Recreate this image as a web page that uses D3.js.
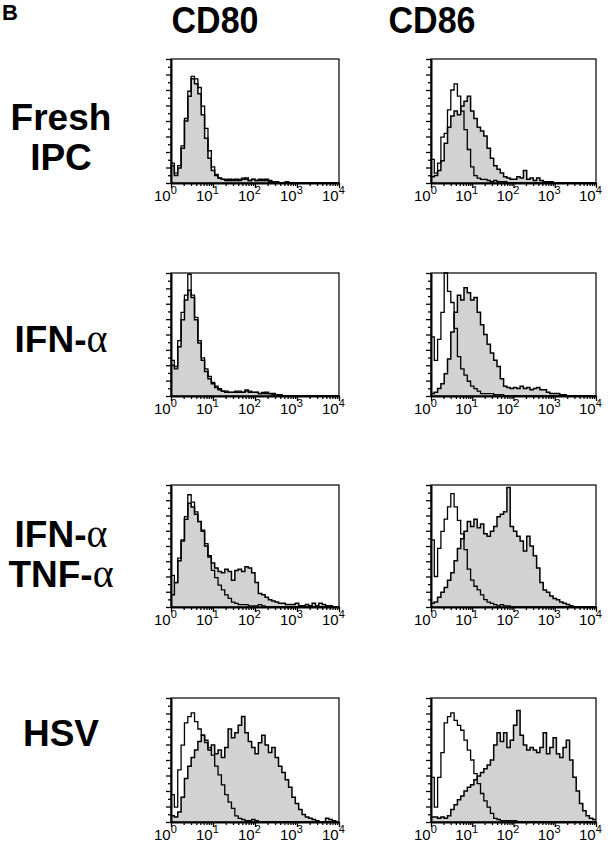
<!DOCTYPE html>
<html>
<head>
<meta charset="utf-8">
<title>CD80 / CD86 histograms</title>
<script src="https://cdn.jsdelivr.net/npm/d3@7"></script>
<style>
  body { margin: 0; background: #fff; }
  svg { display: block; }
</style>
</head>
<body>
<svg id="fig" width="612" height="852"></svg>
<script>
// column headers and row labels
var markers = ['CD80', 'CD86'];
var conditions = [['Fresh', 'IPC'], ['IFN-α'], ['IFN-α', 'TNF-α'], ['HSV']];

// histogram counts, % of full scale, one bin per 0.08 decade (10^0 .. 10^4)
var freshCD80Stain = [14,6,12,28,50,70,84,80,72,55, 36,20,10,6,4,3,2,3,2,3, 2,3,4,2,3,2,3,2,3,2, 1,1,0,0,1,0,0,0,0,0, 0,0,0,0,0,0,0,0,0,0];
var freshCD80Ctrl  = [16,8,14,30,52,74,86,84,77,62, 44,26,13,7,4,3,3,2,3,2, 3,4,3,2,3,2,2,3,2,1, 1,1,0,0,0,0,0,0,0,0, 0,0,0,0,0,0,0,0,0,0];
var freshCD86Stain = [5,6,10,18,32,45,54,58,55,62, 66,70,58,52,45,42,38,28,20,14, 11,8,5,4,3,3,5,4,10,3, 4,2,4,2,1,1,1,0,0,0, 0,0,0,0,0,0,0,0,0,0];
var freshCD86Ctrl  = [19,8,16,37,40,59,75,80,70,58, 43,27,13,6,4,3,3,2,1,2, 1,1,1,0,0,0,0,0,0,0, 0,0,0,0,0,0,0,0,0,0, 0,0,0,0,0,0,0,0,0,0];

var ifnCD80Stain = [25,24,40,62,78,86,80,62,43,29, 20,14,10,7,5,4,3,3,3,3, 3,3,4,3,3,3,2,2,3,2, 2,1,1,0,0,0,0,0,0,0, 0,0,0,0,0,0,0,0,0,0];
var ifnCD80Ctrl  = [29,22,45,68,82,99,82,64,45,31, 22,16,11,8,6,4,4,3,3,4, 4,3,5,4,3,3,2,3,2,2, 1,1,1,0,0,0,0,0,0,0, 0,0,0,0,0,0,0,0,0,0];
var ifnCD86Stain = [2,3,6,10,18,30,52,68,82,78, 88,84,78,80,68,58,50,42,35,29, 24,14,8,7,6,7,6,8,6,7, 5,6,7,5,5,3,2,2,2,1, 1,0,0,0,0,0,0,0,0,0];
var ifnCD86Ctrl  = [48,29,46,68,100,85,76,55,32,22, 17,12,8,6,4,2,2,2,2,1, 1,1,0,0,0,0,0,0,0,0, 0,0,0,0,0,0,0,0,0,0, 0,0,0,0,0,0,0,0,0,0];

var tnfCD80Stain = [10,20,38,54,72,85,82,76,70,62, 50,41,36,32,29,28,31,29,22,30, 31,29,33,32,28,20,11,10,8,6, 5,4,3,3,2,2,2,3,1,1, 2,1,3,1,3,2,1,1,0,0];
var tnfCD80Ctrl  = [26,20,40,55,74,92,86,78,70,63, 52,42,30,24,18,14,10,7,4,3, 2,2,2,1,1,1,2,1,0,0, 0,0,0,0,0,0,0,0,0,0, 0,0,0,0,0,0,0,0,0,0];
var tnfCD86Stain = [3,4,8,12,16,22,28,38,48,56, 62,70,66,72,65,68,60,58,62,66, 74,76,78,98,66,62,58,54,46,58, 50,42,32,20,14,12,9,7,6,4, 3,2,1,0,0,0,0,0,0,0];
var tnfCD86Ctrl  = [55,25,48,62,72,82,93,82,71,60, 47,31,22,17,14,10,6,4,3,2, 1,2,1,1,0,0,0,0,0,0, 0,0,0,0,0,0,0,0,0,0, 0,0,0,0,0,0,0,0,0,0];

var hsvCD80Stain = [5,4,8,20,35,45,52,58,65,70, 66,58,62,55,58,52,60,75,68,72, 78,85,72,65,60,55,64,70,62,56, 60,52,45,40,34,28,20,15,10,6, 4,3,2,1,0,0,3,2,1,0];
var hsvCD80Ctrl  = [22,12,42,62,80,85,88,81,75,70, 64,60,54,45,38,30,22,16,11,5, 3,2,1,1,2,1,0,0,0,0, 0,0,0,0,0,0,0,0,0,0, 0,0,0,0,0,0,0,0,0,0];
var hsvCD86Stain = [4,4,3,4,3,5,10,14,18,21, 25,28,30,34,37,40,43,46,50,62, 72,65,72,60,66,78,90,70,62,58, 60,58,56,60,72,55,60,68,55,52, 60,66,50,36,25,15,9,5,3,2];
var hsvCD86Ctrl  = [36,12,36,56,80,85,88,82,78,74, 66,58,50,39,31,23,17,12,7,3, 2,1,1,1,1,1,0,0,0,0, 0,0,0,0,0,0,0,0,0,0, 0,0,0,0,0,0,0,0,0,0];

var binWidth = 0.08; // decades per bin
var decadeLabels = ['0', '1', '2', '3', '4'];

// [stained, isotype control] per row, per column
var panels = [
  [[freshCD80Stain, freshCD80Ctrl], [freshCD86Stain, freshCD86Ctrl]],
  [[ifnCD80Stain, ifnCD80Ctrl], [ifnCD86Stain, ifnCD86Ctrl]],
  [[tnfCD80Stain, tnfCD80Ctrl], [tnfCD86Stain, tnfCD86Ctrl]],
  [[hsvCD80Stain, hsvCD80Ctrl], [hsvCD86Stain, hsvCD86Ctrl]]
];

//----------------------------
var svg = d3.select('#fig');
var colX = [[171, 339], [431, 596]];
var rowY = [[59, 183], [273, 396], [485, 607], [698, 822]];
var labelBase = [[130, 170], [352], [547, 587], [746]];
var bold = '"Liberation Sans", Arial, Helvetica, sans-serif';

svg.append('text')
  .attr('x', 2).attr('y', 20)
  .attr('font-family', bold).attr('font-weight', 'bold').attr('font-size', 22)
  .text('B');

var headerX = [215, 432];
markers.forEach(function (m, i) {
  svg.append('text')
    .attr('transform', 'translate(' + headerX[i] + ',33) scale(0.92,1)')
    .attr('text-anchor', 'middle')
    .attr('font-family', bold).attr('font-weight', 'bold').attr('font-size', 37)
    .text(m);
});

// row labels, alpha drawn in a serif face like the Symbol font
conditions.forEach(function (lines, r) {
  lines.forEach(function (line, k) {
    var t = svg.append('text')
      .attr('x', 61).attr('y', labelBase[r][k])
      .attr('text-anchor', 'middle')
      .attr('font-family', bold).attr('font-weight', 'bold').attr('font-size', 37);
    var parts = line.split('α');
    t.append('tspan').text(parts[0]);
    if (parts.length > 1) {
      t.append('tspan')
        .attr('font-family', '"Liberation Serif", "DejaVu Serif", serif')
        .attr('font-weight', 'normal').attr('font-size', 40)
        .text('α');
    }
  });
});

function drawPanel(r, c) {
  var x0 = colX[c][0], x1 = colX[c][1];
  var y0 = rowY[r][0], y1 = rowY[r][1];
  var x = d3.scaleLog().domain([1, 1e4]).range([x0, x1]);
  var y = d3.scaleLinear().domain([0, 100]).range([y1, y0]);
  var g = svg.append('g');

  function toPoints(arr) {
    var pts = arr.map(function (v, i) { return [Math.pow(10, i * binWidth), v]; });
    pts.push([1e4, arr[arr.length - 1]]);
    return pts;
  }

  var area = d3.area()
    .curve(d3.curveStepAfter)
    .x(function (d) { return x(d[0]); })
    .y0(y1)
    .y1(function (d) { return y(d[1]); });
  var line = d3.line()
    .curve(d3.curveStepAfter)
    .x(function (d) { return x(d[0]); })
    .y(function (d) { return y(d[1]); });

  var stain = toPoints(panels[r][c][0]);
  var ctrl = toPoints(panels[r][c][1]);

  g.append('path').attr('d', area(stain)).attr('fill', '#d2d2d2');
  g.append('path').attr('d', line(stain)).attr('fill', 'none')
    .attr('stroke', '#000').attr('stroke-width', 1.5);
  g.append('path').attr('d', line(ctrl)).attr('fill', 'none')
    .attr('stroke', '#000').attr('stroke-width', 1.3);

  // frame
  g.append('rect')
    .attr('x', x0).attr('y', y0).attr('width', x1 - x0).attr('height', y1 - y0)
    .attr('fill', 'none').attr('stroke', '#000').attr('stroke-width', 1.2);

  // log x axis, minor ticks at 2..9
  var xAxis = d3.axisBottom(x)
    .tickValues(x.ticks())
    .tickFormat('')
    .tickSizeOuter(0);
  var ax = g.append('g').attr('transform', 'translate(0,' + y1 + ')').call(xAxis);
  ax.select('.domain').attr('stroke-width', 2);
  ax.selectAll('.tick line')
    .attr('stroke-width', 1.3)
    .attr('y2', function (d) { return Math.abs(Math.log10(d) % 1) < 1e-9 ? 5 : 3; });

  // y axis with plain ticks
  var yAxis = d3.axisLeft(y)
    .tickValues(d3.range(0, 100.1, 6.25))
    .tickFormat('')
    .tickSizeOuter(0);
  var ay = g.append('g').attr('transform', 'translate(' + x0 + ',0)').call(yAxis);
  ay.select('.domain').attr('stroke-width', 2);
  ay.selectAll('.tick line')
    .attr('stroke-width', 1.3)
    .attr('x2', function (d, i) { return i % 2 === 0 ? -5 : -3; });

  // 10^n labels
  decadeLabels.forEach(function (p) {
    var t = g.append('text')
      .attr('x', x(Math.pow(10, +p)) - 17)
      .attr('y', y1 + 18)
      .attr('font-family', bold).attr('font-size', 15);
    t.append('tspan').text('10');
    t.append('tspan').attr('dy', -7).attr('font-size', 11).text(p);
  });
}

for (var r = 0; r < 4; r++) {
  for (var c = 0; c < 2; c++) drawPanel(r, c);
}
</script>
</body>
</html>
